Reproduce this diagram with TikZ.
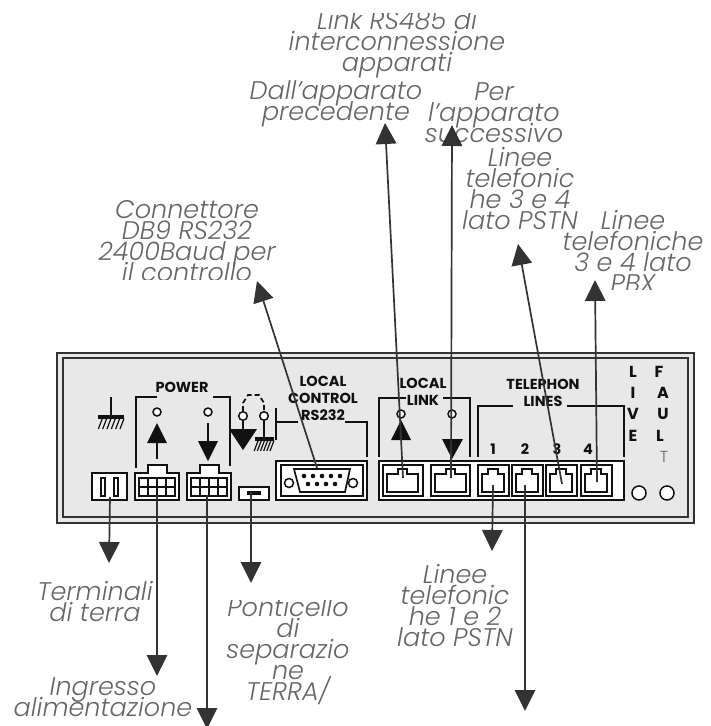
\documentclass[tikz,border=0pt]{standalone}
\usepackage{fontspec}
\setmainfont{Poppins}[UprightFont={* Light},ItalicFont={* Light Italic},BoldFont={* Bold}]
\usetikzlibrary{arrows.meta}
\lineskiplimit=-100pt
\normallineskiplimit=-100pt
\definecolor{ink}{HTML}{111111}
\definecolor{lead}{HTML}{333333}
\definecolor{labelgray}{HTML}{666666}
\definecolor{panelgray}{HTML}{E8E8E8}
\tikzset{
  x=1pt,y=-1pt,
  lab/.style={font=\fontsize{25.5}{21}\selectfont\itshape,text=labelgray,align=center,inner sep=0pt},
  ttl/.style={font=\fontsize{14.5}{17}\selectfont\bfseries,text=ink,align=center,inner sep=0pt},
  ltr/.style={font=\fontsize{16}{17}\selectfont\bfseries,text=ink,inner sep=0pt},
  ln/.style={draw=ink,line width=1.7pt},
  box/.style={draw=ink,line width=1.7pt,fill=white},
  leader/.style={draw=lead,line width=1.7pt,-{Triangle[length=21pt,width=20.5pt,color=lead]}},
  solidtri/.style={fill=ink,draw=none},
  hole/.style={draw=ink,line width=1.5pt,fill=white},
}
\newcommand{\hatchbar}[3]{% x1,x2,y
  \fill[ink] (#1,#3) rectangle (#2,#3+3.5);
  \foreach \hx in {1,...,6}{
    \draw[ink,line width=1.2pt] ({#1+(#2-#1)*\hx/6},#3+3.5) -- ({#1+(#2-#1)*\hx/6-4},#3+14);}
}
\newcommand{\jack}[5]{% outer x1,x2, inner x1,x2, notch inset
  \draw[ln,fill=white] (#1,465) rectangle (#2,496);
  \draw[ln,fill=white] (#3,492) -- (#3,474) -- (#3+#5,474) -- (#3+#5,469) -- (#4-#5,469) -- (#4-#5,474) -- (#4,474) -- (#4,492) -- cycle;
}
\newcommand{\molex}[1]{% left x
  \draw[box] (#1,500) -- (#1,473) -- (#1+13,473) -- (#1+13,465) -- (#1+32,465) -- (#1+32,473) -- (#1+44,473) -- (#1+44,500) -- cycle;
  \draw[ln] (#1+4,478) rectangle (#1+40,496);
  \draw[ln] (#1+4,487) -- (#1+40,487);
  \foreach \mi in {1,2,3}{\draw[ln] (#1+4+9*\mi,478) -- (#1+4+9*\mi,496);}
}
\begin{document}
\begin{tikzpicture}
\useasboundingbox (0,0) rectangle (711,726);
% labels
\begin{scope}
  \clip (0,13) rectangle (711,90);
  \node[lab] (linktxt) at (397,44) {Link RS485 di\\interconnessione\\apparati};
\end{scope}
\node[lab] (dallt) at (336,104) {Dall’apparato\\precedente};
\node[lab] (pert) at (494,113) {Per\\l’apparato\\successivo};
\node[lab] (l34p) at (520,189) {Linee\\telefonic\\he 3 e 4\\lato PSTN};
\begin{scope}
  \clip (560,200) rectangle (711,289);
  \node[lab] (l34x) at (633,251) {Linee\\telefoniche\\3 e 4 lato\\PBX};
\end{scope}
\begin{scope}
  \clip (60,200) rectangle (320,279);
  \node[lab] (conn) at (187,241) {Connettore\\DB9 RS232\\2400Baud per\\il controllo};
\end{scope}
\node[lab] (term) at (95,602) {Terminali\\di terra};
\node[lab] (ingr) at (103,697) {Ingresso\\alimentazione};
\begin{scope}
  \clip (200,600) rectangle (380,726);
  \node[lab] (pont) at (288,651) {Ponticello\\di\\separazio\\ne\\TERRA/};
\end{scope}
\node[lab] (l12) at (455,606) {Linee\\telefonic\\he 1 e 2\\lato PSTN};
% panel
\draw[draw=lead,line width=2.6pt,fill=panelgray] (57,353) rectangle (694,523);
\draw[draw=lead,line width=2.2pt] (63,358) rectangle (688,517);
% panel titles
\node[ttl] (power) at (182,387) {POWER};
\node[ttl] (lctl) at (323,398) {LOCAL\\CONTROL\\RS232};
\node[ttl] (llink) at (423,392) {LOCAL\\LINK};
\node[ttl] (tel) at (543,393) {TELEPHON\\LINES};
\node[ttl] at (493,449) {1};
\node[ttl] at (525,449) {2};
\node[ttl] at (557,449) {3};
\node[ttl] at (588,449) {4};
\node[ltr] at (633,372) {L};
\node[ltr] at (633,393) {I};
\node[ltr] at (633,414) {V};
\node[ltr] at (633,436) {E};
\node[ltr] at (659,372) {F};
\node[ltr] at (663,393) {A};
\node[ltr] at (663,414) {U};
\node[ltr] at (660,436) {L};
\node[font=\fontsize{16}{17}\selectfont,text=labelgray,inner sep=0pt] at (664,457) {T};
% brackets
\draw[ln] (136,468) -- (136,397) -- (157,397);
\draw[ln] (213,397) -- (230,397) -- (230,466);
\draw[ln] (276,408) -- (276,440);
\draw[ln] (276,422) -- (298,422);
\draw[ln] (345,422) -- (367,422) -- (367,457);
\draw[ln] (379,457) -- (379,398) -- (406,398);
\draw[ln] (443,398) -- (470,398) -- (470,457);
\draw[ln] (478,457) -- (478,406) -- (513,406);
\draw[ln] (567,406) -- (624,406) -- (624,457);
% ground symbols
\draw[ln] (111,397) -- (111,415);
\hatchbar{98}{124}{415}
\draw[ln] (243,420) -- (243,430);
\draw[ln] (264,420) -- (264,437);
\hatchbar{255}{274}{437}
\draw[ln,dash pattern=on 5pt off 3pt] (243,411) -- (243,403) -- (248,395) -- (259,395) -- (264,403) -- (264,411);
\draw[hole] (243,416) circle (4.3);
\draw[hole] (264,416) circle (4.3);
\fill[solidtri] (229,429) -- (257,429) -- (243,450) -- cycle;
% power indicators
\draw[hole] (157,412) circle (4);
\draw[hole] (208,412) circle (4);
\draw[ln] (157,440) -- (157,459);
\fill[solidtri] (157,423) -- (167,443) -- (147,443) -- cycle;
\draw[ln] (208,423) -- (208,445);
\fill[solidtri] (198,441) -- (218,441) -- (208,461) -- cycle;
% earth terminals, power connectors, jumper
\draw[box] (92,473) rectangle (127,500);
\draw[ln] (101,478) rectangle (105,496);
\draw[ln] (114,478) rectangle (118,496);
\molex{135}
\molex{187}
\draw[box] (239,487) rectangle (269,500);
\fill[ink] (247,491) rectangle (261,495);
% DB9
\draw[box] (276,461) rectangle (367,500);
\draw[ln] (281,465) rectangle (363,496);
\draw[ln] (294,469) -- (350,469) -- (345,492) -- (300,492) -- cycle;
\draw[hole] (289,483) circle (4.5);
\draw[hole] (353,483) circle (4.5);
\foreach \px in {304,313,322,331,340}{\fill[ink] (\px,476) circle (2.3);}
\foreach \px in {308,317,326,335}{\fill[ink] (\px,484) circle (2.3);}
% RJ block
\draw[box] (379,461) rectangle (624,500);
\jack{383}{423}{387}{418}{11}
\jack{431}{470}{435}{466}{11}
\jack{478}{509}{482}{504}{6}
\jack{512}{543}{516}{538}{6}
\jack{546}{577}{550}{572}{6}
\jack{581}{612}{585}{607}{6}
% link indicators
\draw[hole] (401,414) circle (4);
\draw[hole] (452,414) circle (4);
\fill[solidtri] (401,420) -- (411,440) -- (391,440) -- cycle;
\fill[solidtri] (442,439) -- (463,439) -- (452,459) -- cycle;
% LEDs
\draw[hole] (639,493) circle (7);
\draw[hole] (667,493) circle (7);
% leader ends
\coordinate (aDB) at (317,468); \coordinate (bDB) at (257,281);
\coordinate (aIn) at (403,478); \coordinate (bIn) at (385,123);
\coordinate (aOut) at (451,478); \coordinate (bOut) at (452,125);
\coordinate (aJ3) at (562,484); \coordinate (bJ3) at (518,244);
\coordinate (aJ4) at (597,482); \coordinate (bJ4) at (595,280);
\coordinate (aEa) at (110,497); \coordinate (bEa) at (109,563);
\coordinate (aP1) at (157,495); \coordinate (bP1) at (157,676);
\coordinate (aP2) at (207,495); \coordinate (bP2) at (207,729);
\coordinate (aJu) at (251,492); \coordinate (bJu) at (251,583);
\coordinate (aJ1) at (493,485); \coordinate (bJ1) at (492,551);
\coordinate (aJ2) at (525,485); \coordinate (bJ2) at (525,711);
\foreach \a/\b in {aDB/bDB,aIn/bIn,aOut/bOut,aJ3/bJ3,aJ4/bJ4,aEa/bEa,aP1/bP1,aP2/bP2,aJu/bJu,aJ1/bJ1,aJ2/bJ2}{
  \draw[leader] (\a) -- (\b);}
\end{tikzpicture}
\end{document}
